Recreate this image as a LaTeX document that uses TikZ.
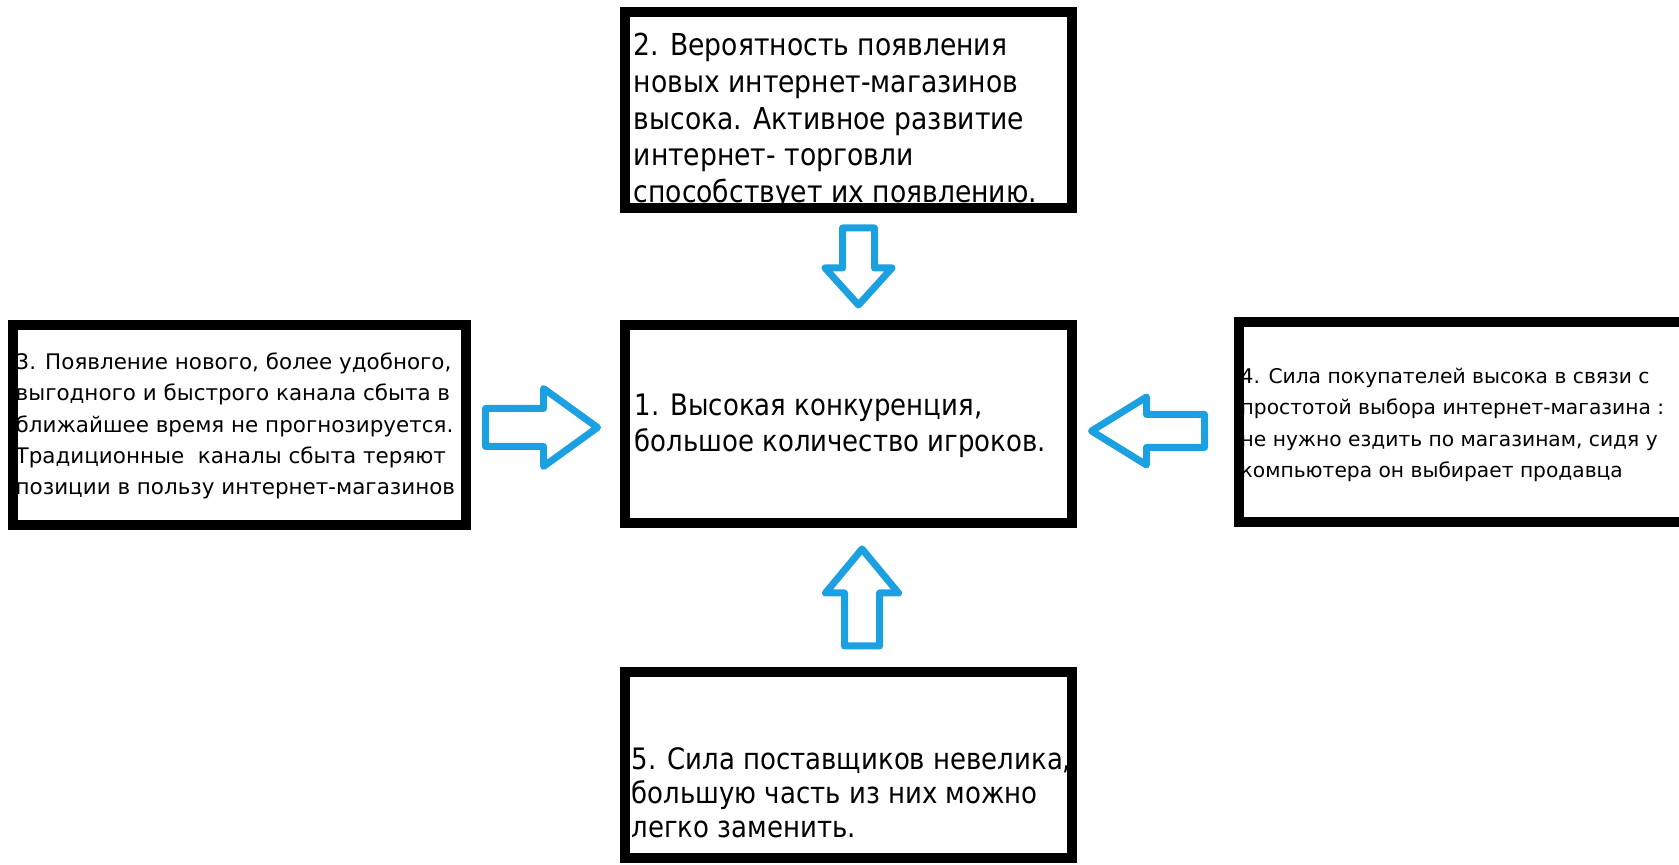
\documentclass[tikz,border=0pt]{standalone}
\usepackage{fontspec}
\setmainfont{DejaVu Sans}
\newfontfamily\boxfont{DejaVu Sans}[FakeStretch=0.88]
\usetikzlibrary{calc}
\definecolor{arrowblue}{RGB}{27,161,226}
\tikzset{pics/blkarrow/.style n args={4}{code={
  \draw[arrowline] (-#1/2,-#2/2) -- (#1/2-#4,-#2/2) -- (#1/2-#4,-#3/2) -- (#1/2,0)
    -- (#1/2-#4,#3/2) -- (#1/2-#4,#2/2) -- (-#1/2,#2/2) -- cycle;
}}}
\begin{document}
\begin{tikzpicture}[
  x=0.01cm, y=-0.01cm,
  panel/.style={draw=black, line width=1mm, inner sep=0pt},
  arrowline/.style={draw=arrowblue, line width=0.7mm, line join=round},
  bigtxt/.style={font=\boxfont\fontsize{8.6pt}{#1}\selectfont, align=left, anchor=west, inner sep=0pt},
  sidetxt/.style={font=\fontsize{6.1pt}{#1}\selectfont, align=left, anchor=west, inner sep=0pt}
]
  \clip (0,0) rectangle (1679,865);

  % boxes
  \node[panel, minimum width=4.47cm, minimum height=1.98cm] (b1) at (848.5,424) {};
  \node[panel, minimum width=4.47cm, minimum height=1.96cm] (b2) at (848.5,110) {};
  \node[panel, minimum width=4.53cm, minimum height=2.00cm] (b3) at (239.5,425) {};
  \node[panel, minimum width=4.61cm, minimum height=2.00cm] (b4) at (1469.5,422) {};
  \node[panel, minimum width=4.47cm, minimum height=1.86cm] (b5) at (848.5,765) {};

  % texts
  \node[bigtxt=10.5pt, font=\boxfont\fontsize{8.4pt}{10.3pt}\selectfont] (t1) at (634,426) {1. Высокая конкуренция,\\большое количество игроков.};
  \node[bigtxt=10.5pt] (t2) at (633,121) {2. Вероятность появления\\новых интернет-магазинов\\высока. Активное развитие\\интернет- торговли\\способствует их появлению.};
  \node[sidetxt=8.9pt] (t3) at (15,426) {3. Появление нового, более удобного,\\выгодного и быстрого канала сбыта в\\ближайшее время не прогнозируется.\\Традиционные\ \ каналы сбыта теряют\\позиции в пользу интернет-магазинов};
  \node[sidetxt=8.9pt, font=\fontsize{5.75pt}{8.9pt}\selectfont] (t4) at (1240,425) {4. Сила покупателей высока в связи с\\простотой выбора интернет-магазина :\\не нужно ездить по магазинам, сидя у\\компьютера он выбирает продавца};
  \node[bigtxt=9.4pt, font=\boxfont\fontsize{8.4pt}{9.6pt}\selectfont] (t5) at (631,793) {5. Сила поставщиков невелика,\\большую часть из них можно\\легко заменить.};

  % arrows
  \pic[rotate=-90] at ($(b2.south)!0.5!(b1.north)+(10,0)$) {blkarrow={77}{32}{67}{37}};
  \pic[rotate=90] at ($(b1.south)!0.5!(b5.north)+(13.5,0)$) {blkarrow={97}{35}{73}{44}};
  \pic at ($(b3.east)!0.5!(b1.west)+(-4,3)$) {blkarrow={112}{38}{78}{54}};
  \pic[rotate=180] at ($(b4.west)!0.5!(b1.east)+(-7.5,8)$) {blkarrow={113}{33}{68}{55}};
\end{tikzpicture}
\end{document}
